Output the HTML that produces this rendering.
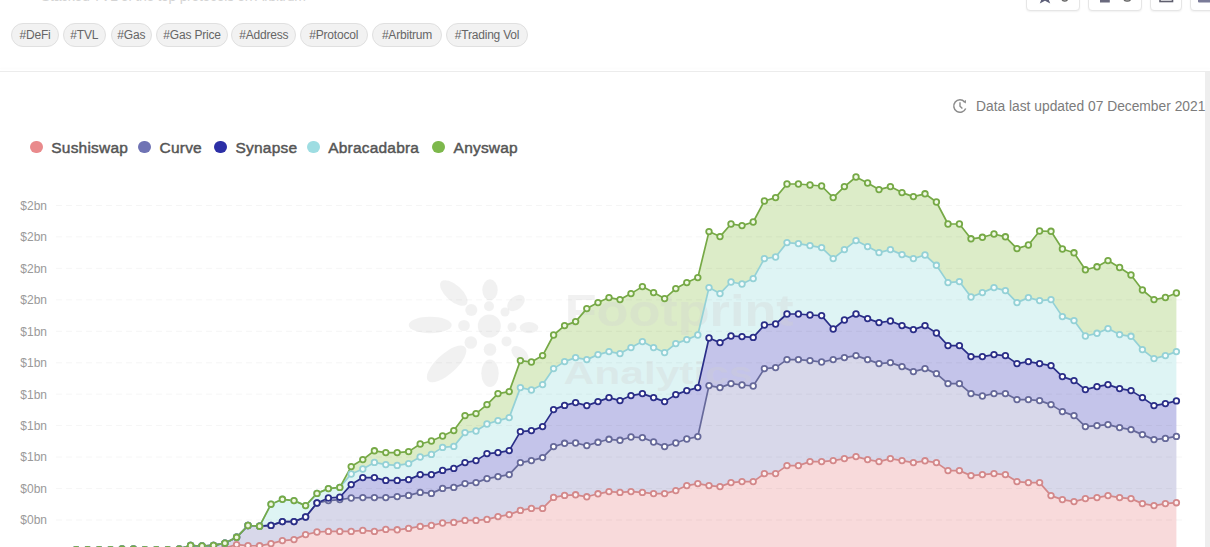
<!DOCTYPE html>
<html><head><meta charset="utf-8">
<style>
*{margin:0;padding:0;box-sizing:border-box}
html,body{width:1210px;height:547px;overflow:hidden;background:#fff}
body{position:relative;font-family:"Liberation Sans",Arial,sans-serif;color:#555}
.abs{position:absolute}
.toptxt{left:41px;top:-11.5px;font-size:14px;line-height:14px;color:#d4d4d4;letter-spacing:-0.3px;white-space:nowrap}
.btn{position:absolute;top:-12px;height:23px;border:1px solid #e6e6e6;border-radius:4px;background:#fff;box-shadow:0 1px 2px rgba(0,0,0,.06)}
.tag{position:absolute;top:23.3px;height:23.3px;line-height:22.5px;border:1px solid #e0e0e0;background:#f2f2f2;border-radius:12px;font-size:12px;color:#666;text-align:center;white-space:nowrap;letter-spacing:-0.2px}
.sep{left:0;top:71px;width:1210px;height:1px;background:#ececec;box-shadow:0 -3px 2px #fafafa}
.rbar{left:1205px;top:72px;width:5px;height:476px;background:#eeeeee}
.upd{left:976px;top:99px;font-size:13.8px;line-height:16px;color:#7c7c7c;white-space:nowrap}
.ld{position:absolute;top:140.5px;width:12.7px;height:12.7px;border-radius:50%}
.lt{position:absolute;top:138.5px;font-size:15.5px;line-height:18px;font-weight:normal;-webkit-text-stroke:0.45px #555;color:#555;white-space:nowrap;letter-spacing:0.2px}
svg.chart{position:absolute;left:0;top:0}
.g{stroke:#000;stroke-opacity:.04;stroke-width:1;stroke-dasharray:6 4}
.yl{font-size:12px;fill:#9a9a9a;text-anchor:end;font-family:"Liberation Sans",Arial,sans-serif}
.wm{fill:#d0d0d0;fill-opacity:.3}
.wt{font-weight:bold;font-family:"Liberation Sans",Arial,sans-serif}
</style></head>
<body>
<div class="abs toptxt">Stacked TVL of the top protocols on Arbitrum</div>
<div class="btn" style="left:1026px;width:54px"></div>
<div class="btn" style="left:1088px;width:54px"></div>
<div class="btn" style="left:1150px;width:32px"></div>
<div class="btn" style="left:1190px;width:30px"></div>
<svg class="abs" style="left:0;top:0" width="1210" height="12" viewBox="0 0 1210 12">
<polygon points="1045,-11 1047.3,-4.8 1053.8,-4.8 1048.6,-0.6 1050.2,3.4 1045,0.8 1039.8,3.4 1041.4,-0.6 1036.2,-4.8 1042.7,-4.8" fill="#5d5f78"/>
<rect x="1062" y="-6" width="5.5" height="7" rx="2.5" fill="none" stroke="#666" stroke-width="1.5"/>
<rect x="1100" y="-8" width="9.8" height="10.5" fill="#6a6a7e"/>
<rect x="1124" y="-6" width="6.5" height="7" rx="2.5" fill="none" stroke="#666" stroke-width="1.5"/>
<rect x="1160" y="-8" width="12.5" height="9.5" fill="none" stroke="#5f5f6e" stroke-width="1.6"/>
<rect x="1198" y="-8" width="14" height="10.5" rx="1" fill="#7a7b98"/>
</svg>
<div class="tag" style="left:11px;width:48px">#DeFi</div>
<div class="tag" style="left:62.5px;width:43.5px">#TVL</div>
<div class="tag" style="left:110.5px;width:41.5px">#Gas</div>
<div class="tag" style="left:156.3px;width:71.5px">#Gas Price</div>
<div class="tag" style="left:231.3px;width:65px">#Address</div>
<div class="tag" style="left:300px;width:67.5px">#Protocol</div>
<div class="tag" style="left:371.6px;width:70.8px">#Arbitrum</div>
<div class="tag" style="left:446.4px;width:81.3px">#Trading Vol</div>
<div class="abs sep"></div>
<div class="abs rbar"></div>
<svg class="abs" style="left:952px;top:98px" width="16" height="16" viewBox="0 0 16 16"><path d="M12.6 3.9 A6.2 6.2 0 1 0 13.7 10.5" fill="none" stroke="#8c8c8c" stroke-width="1.5"/><path d="M11.3 3.2 L13.3 4.4 L13.4 2.2" fill="none" stroke="#8c8c8c" stroke-width="1.2"/><path d="M8 4.3V8.2l2.4 2.3" fill="none" stroke="#8c8c8c" stroke-width="1.4"/></svg>
<div class="abs upd">Data last updated 07 December 2021</div>
<span class="ld" style="left:30px;background:#e98a8c"></span><span class="lt" style="left:51.3px">Sushiswap</span>
<span class="ld" style="left:138.2px;background:#6f73b4"></span><span class="lt" style="left:159.6px">Curve</span>
<span class="ld" style="left:214.2px;background:#2c2fa6"></span><span class="lt" style="left:235.5px">Synapse</span>
<span class="ld" style="left:307px;background:#9edde2"></span><span class="lt" style="left:328.2px">Abracadabra</span>
<span class="ld" style="left:432px;background:#7db84c"></span><span class="lt" style="left:453.6px">Anyswap</span>
<svg class="chart" width="1210" height="547" viewBox="0 0 1210 547">
<text x="47" y="209.8" class="yl">$2bn</text>
<text x="47" y="241.2" class="yl">$2bn</text>
<text x="47" y="272.7" class="yl">$2bn</text>
<text x="47" y="304.2" class="yl">$2bn</text>
<text x="47" y="335.6" class="yl">$1bn</text>
<text x="47" y="367.1" class="yl">$1bn</text>
<text x="47" y="398.5" class="yl">$1bn</text>
<text x="47" y="429.9" class="yl">$1bn</text>
<text x="47" y="461.4" class="yl">$1bn</text>
<text x="47" y="492.9" class="yl">$0bn</text>
<text x="47" y="524.3" class="yl">$0bn</text>
<text x="47" y="555.8" class="yl">$0bn</text>
<path d="M76.2,550 L87.6,550 L99.1,550 L110.5,550 L122,549.5 L133.4,549.5 L144.8,550 L156.3,550 L167.7,550 L179.2,549.5 L190.6,550 L202,550 L213.5,549 L224.9,548 L236.6,544.6 L248,545.6 L259.6,545.8 L271,543.6 L282.4,540.6 L294,539.6 L305.6,534.6 L317,532 L328.4,531.4 L339.8,531.4 L351.2,531.4 L362.8,530.4 L374.4,531.4 L385.8,529.4 L397.2,529.8 L408.6,528.4 L420.2,526.4 L431.4,525.4 L442.6,523 L453.8,522.4 L465,520.4 L476,520.4 L487,519.4 L498,516.6 L509.2,514.6 L520.4,510.4 L531.4,508.4 L542.6,508.4 L553.6,497.4 L564.6,495.4 L575.6,494.8 L586.8,496.8 L598,493.8 L609,491.6 L620,492.4 L631,491.6 L642.4,492.4 L653.6,493.6 L664.6,493.6 L675.8,490.6 L686.8,485.6 L697.8,483.6 L709,485.6 L720,486.6 L731,482.6 L742,481.6 L753.2,481.6 L764.4,473.6 L775.6,473.6 L787,465.6 L798.4,465.6 L810,461.6 L821.6,461.6 L833.2,460.6 L844.4,458.6 L856,456.6 L867.6,459.6 L879,461.6 L890.4,458.6 L902,460.6 L913.4,462.6 L925,460.8 L936.4,462.6 L948,470.6 L959.4,470.6 L971,475.6 L982.4,474.6 L994,473.6 L1005.4,474.6 L1017,481.6 L1028.4,482.6 L1039.6,482.6 L1051,495.6 L1062.4,499.6 L1074,501.6 L1085.4,498.6 L1097,497.6 L1108,495.6 L1119.6,497.6 L1131,498.6 L1142.4,503.6 L1154,505.6 L1165.4,503.6 L1176.4,502.7 L1176.4,551.5 L76.2,551.5 Z" fill="#f8dadb" fill-opacity="1"/>
<path d="M76.2,549.6 L87.6,549.6 L99.1,549.6 L110.5,549.6 L122,549 L133.4,549 L144.8,549.6 L156.3,549.6 L167.7,549.6 L179.2,549 L190.6,545.5 L202,546 L213.5,545.4 L224.9,543.2 L236.6,537.3 L248,525.5 L259.6,526.2 L271,525.4 L282.4,521.6 L294,521.6 L305.6,517 L317,503 L328.4,500.6 L339.8,499.6 L351.2,498 L362.8,497.6 L374.4,497.6 L385.8,497.6 L397.2,496.6 L408.6,495.4 L420.2,492.4 L431.4,493.4 L442.6,488.4 L453.8,487.4 L465,483.6 L476,482.6 L487,478.6 L498,476.6 L509.2,474.6 L520.4,462.6 L531.4,460.6 L542.6,457.6 L553.6,446.6 L564.6,443.3 L575.6,443 L586.8,445.6 L598,442.3 L609,439.3 L620,440.3 L631,437 L642.4,437.6 L653.6,442 L664.6,446.6 L675.8,443 L686.8,439 L697.8,436.6 L709,385.6 L720,387.6 L731,383.6 L742,385 L753.2,386 L764.4,368.6 L775.6,367.6 L787,359.6 L798.4,359.6 L810,360.6 L821.6,362 L833.2,359.6 L844.4,357.6 L856,355.6 L867.6,359.6 L879,363.6 L890.4,362.6 L902,366.6 L913.4,371.6 L925,368.6 L936.4,373.6 L948,383.6 L959.4,383.6 L971,393.6 L982.4,396 L994,393.6 L1005.4,393.6 L1017,399.6 L1028.4,399.6 L1039.6,400.6 L1051,404.6 L1062.4,411.6 L1074,415.6 L1085.4,426.6 L1097,425.6 L1108,424.6 L1119.6,427.6 L1131,429.6 L1142.4,434.6 L1154,439.6 L1165.4,438.4 L1176.4,436.4 L1176.4,502.7 L1165.4,503.6 L1154,505.6 L1142.4,503.6 L1131,498.6 L1119.6,497.6 L1108,495.6 L1097,497.6 L1085.4,498.6 L1074,501.6 L1062.4,499.6 L1051,495.6 L1039.6,482.6 L1028.4,482.6 L1017,481.6 L1005.4,474.6 L994,473.6 L982.4,474.6 L971,475.6 L959.4,470.6 L948,470.6 L936.4,462.6 L925,460.8 L913.4,462.6 L902,460.6 L890.4,458.6 L879,461.6 L867.6,459.6 L856,456.6 L844.4,458.6 L833.2,460.6 L821.6,461.6 L810,461.6 L798.4,465.6 L787,465.6 L775.6,473.6 L764.4,473.6 L753.2,481.6 L742,481.6 L731,482.6 L720,486.6 L709,485.6 L697.8,483.6 L686.8,485.6 L675.8,490.6 L664.6,493.6 L653.6,493.6 L642.4,492.4 L631,491.6 L620,492.4 L609,491.6 L598,493.8 L586.8,496.8 L575.6,494.8 L564.6,495.4 L553.6,497.4 L542.6,508.4 L531.4,508.4 L520.4,510.4 L509.2,514.6 L498,516.6 L487,519.4 L476,520.4 L465,520.4 L453.8,522.4 L442.6,523 L431.4,525.4 L420.2,526.4 L408.6,528.4 L397.2,529.8 L385.8,529.4 L374.4,531.4 L362.8,530.4 L351.2,531.4 L339.8,531.4 L328.4,531.4 L317,532 L305.6,534.6 L294,539.6 L282.4,540.6 L271,543.6 L259.6,545.8 L248,545.6 L236.6,544.6 L224.9,548 L213.5,549 L202,550 L190.6,550 L179.2,549.5 L167.7,550 L156.3,550 L144.8,550 L133.4,549.5 L122,549.5 L110.5,550 L99.1,550 L87.6,550 L76.2,550 Z" fill="#d8d8ea" fill-opacity="1"/>
<path d="M76.2,549.6 L87.6,549.6 L99.1,549.6 L110.5,549.6 L122,549 L133.4,549 L144.8,549.6 L156.3,549.6 L167.7,549.6 L179.2,549 L190.6,545.5 L202,546 L213.5,545.4 L224.9,543.2 L236.6,537.3 L248,525.5 L259.6,526.2 L271,525.4 L282.4,521.6 L294,521.6 L305.6,517 L317,503 L328.4,498 L339.8,497.2 L351.2,484.6 L362.8,477.6 L374.4,477.6 L385.8,480.4 L397.2,480.4 L408.6,479.6 L420.2,474.6 L431.4,474.6 L442.6,470.4 L453.8,468.4 L465,462.6 L476,460.6 L487,453.6 L498,452.6 L509.2,450.6 L520.4,431.6 L531.4,430.6 L542.6,426.6 L553.6,409.6 L564.6,405.4 L575.6,402.6 L586.8,405.6 L598,401.6 L609,397.6 L620,400.6 L631,395.6 L642.4,393.6 L653.6,397.6 L664.6,401.6 L675.8,394.6 L686.8,390.6 L697.8,387.6 L709,338 L720,342.6 L731,336 L742,336.6 L753.2,337.4 L764.4,325 L775.6,324 L787,314 L798.4,314 L810,315 L821.6,315.6 L833.2,329 L844.4,320 L856,314 L867.6,318.6 L879,322.6 L890.4,321 L902,325.6 L913.4,329.6 L925,325.6 L936.4,333 L948,345.6 L959.4,345.6 L971,356.6 L982.4,356.6 L994,354.6 L1005.4,355.6 L1017,363.6 L1028.4,361.6 L1039.6,363.6 L1051,365.6 L1062.4,376.6 L1074,380.6 L1085.4,389.6 L1097,386.6 L1108,384.6 L1119.6,388.6 L1131,390.6 L1142.4,397.6 L1154,405.6 L1165.4,403.6 L1176.4,400.9 L1176.4,436.4 L1165.4,438.4 L1154,439.6 L1142.4,434.6 L1131,429.6 L1119.6,427.6 L1108,424.6 L1097,425.6 L1085.4,426.6 L1074,415.6 L1062.4,411.6 L1051,404.6 L1039.6,400.6 L1028.4,399.6 L1017,399.6 L1005.4,393.6 L994,393.6 L982.4,396 L971,393.6 L959.4,383.6 L948,383.6 L936.4,373.6 L925,368.6 L913.4,371.6 L902,366.6 L890.4,362.6 L879,363.6 L867.6,359.6 L856,355.6 L844.4,357.6 L833.2,359.6 L821.6,362 L810,360.6 L798.4,359.6 L787,359.6 L775.6,367.6 L764.4,368.6 L753.2,386 L742,385 L731,383.6 L720,387.6 L709,385.6 L697.8,436.6 L686.8,439 L675.8,443 L664.6,446.6 L653.6,442 L642.4,437.6 L631,437 L620,440.3 L609,439.3 L598,442.3 L586.8,445.6 L575.6,443 L564.6,443.3 L553.6,446.6 L542.6,457.6 L531.4,460.6 L520.4,462.6 L509.2,474.6 L498,476.6 L487,478.6 L476,482.6 L465,483.6 L453.8,487.4 L442.6,488.4 L431.4,493.4 L420.2,492.4 L408.6,495.4 L397.2,496.6 L385.8,497.6 L374.4,497.6 L362.8,497.6 L351.2,498 L339.8,499.6 L328.4,500.6 L317,503 L305.6,517 L294,521.6 L282.4,521.6 L271,525.4 L259.6,526.2 L248,525.5 L236.6,537.3 L224.9,543.2 L213.5,545.4 L202,546 L190.6,545.5 L179.2,549 L167.7,549.6 L156.3,549.6 L144.8,549.6 L133.4,549 L122,549 L110.5,549.6 L99.1,549.6 L87.6,549.6 L76.2,549.6 Z" fill="#c4c4ea" fill-opacity="1"/>
<path d="M76.2,549.6 L87.6,549.6 L99.1,549.6 L110.5,549.6 L122,549 L133.4,549 L144.8,549.6 L156.3,549.6 L167.7,549.6 L179.2,549 L190.6,545.5 L202,546 L213.5,545.4 L224.9,543.2 L236.6,537.3 L248,525.5 L259.6,526.2 L271,504.2 L282.4,499.3 L294,500.6 L305.6,505.6 L317,493.4 L328.4,488.6 L339.8,487.4 L351.2,474 L362.8,469 L374.4,462.4 L385.8,464.6 L397.2,465.4 L408.6,463.6 L420.2,457 L431.4,454.4 L442.6,447.4 L453.8,446.4 L465,432.6 L476,431 L487,424 L498,420.6 L509.2,417.6 L520.4,387.6 L531.4,390 L542.6,384.6 L553.6,368.6 L564.6,361.6 L575.6,357.6 L586.8,359.6 L598,354.6 L609,351.6 L620,353.6 L631,347.6 L642.4,341.6 L653.6,347.6 L664.6,352.6 L675.8,343.6 L686.8,339.6 L697.8,335 L709,287.6 L720,293.6 L731,282 L742,284 L753.2,278.6 L764.4,258.6 L775.6,257 L787,242.6 L798.4,243.6 L810,245.6 L821.6,247.6 L833.2,258.6 L844.4,249.6 L856,240.6 L867.6,246.6 L879,252.6 L890.4,249.6 L902,254.6 L913.4,258.6 L925,255 L936.4,265.3 L948,282.6 L959.4,281.6 L971,297 L982.4,292.6 L994,287.6 L1005.4,290.6 L1017,302.6 L1028.4,297.6 L1039.6,300.6 L1051,299.6 L1062.4,316.6 L1074,320.6 L1085.4,336 L1097,333.3 L1108,328.6 L1119.6,334.6 L1131,336.3 L1142.4,349.6 L1154,358.6 L1165.4,355.6 L1176.4,351.6 L1176.4,400.9 L1165.4,403.6 L1154,405.6 L1142.4,397.6 L1131,390.6 L1119.6,388.6 L1108,384.6 L1097,386.6 L1085.4,389.6 L1074,380.6 L1062.4,376.6 L1051,365.6 L1039.6,363.6 L1028.4,361.6 L1017,363.6 L1005.4,355.6 L994,354.6 L982.4,356.6 L971,356.6 L959.4,345.6 L948,345.6 L936.4,333 L925,325.6 L913.4,329.6 L902,325.6 L890.4,321 L879,322.6 L867.6,318.6 L856,314 L844.4,320 L833.2,329 L821.6,315.6 L810,315 L798.4,314 L787,314 L775.6,324 L764.4,325 L753.2,337.4 L742,336.6 L731,336 L720,342.6 L709,338 L697.8,387.6 L686.8,390.6 L675.8,394.6 L664.6,401.6 L653.6,397.6 L642.4,393.6 L631,395.6 L620,400.6 L609,397.6 L598,401.6 L586.8,405.6 L575.6,402.6 L564.6,405.4 L553.6,409.6 L542.6,426.6 L531.4,430.6 L520.4,431.6 L509.2,450.6 L498,452.6 L487,453.6 L476,460.6 L465,462.6 L453.8,468.4 L442.6,470.4 L431.4,474.6 L420.2,474.6 L408.6,479.6 L397.2,480.4 L385.8,480.4 L374.4,477.6 L362.8,477.6 L351.2,484.6 L339.8,497.2 L328.4,498 L317,503 L305.6,517 L294,521.6 L282.4,521.6 L271,525.4 L259.6,526.2 L248,525.5 L236.6,537.3 L224.9,543.2 L213.5,545.4 L202,546 L190.6,545.5 L179.2,549 L167.7,549.6 L156.3,549.6 L144.8,549.6 L133.4,549 L122,549 L110.5,549.6 L99.1,549.6 L87.6,549.6 L76.2,549.6 Z" fill="#def4f4" fill-opacity="1"/>
<path d="M76.2,549.6 L87.6,549.6 L99.1,549.6 L110.5,549.6 L122,549 L133.4,549 L144.8,549.6 L156.3,549.6 L167.7,549.6 L179.2,549 L190.6,545.5 L202,546 L213.5,545.4 L224.9,543.2 L236.6,537.3 L248,525.5 L259.6,526.2 L271,504.2 L282.4,499.3 L294,500.6 L305.6,505.6 L317,493.4 L328.4,488.6 L339.8,487.4 L351.2,466.6 L362.8,459.6 L374.4,450.8 L385.8,452.6 L397.2,452.6 L408.6,451.6 L420.2,444 L431.4,441 L442.6,436 L453.8,430.6 L465,415.6 L476,413.6 L487,404.6 L498,393.6 L509.2,391.6 L520.4,360.6 L531.4,362 L542.6,355.6 L553.6,335 L564.6,325.6 L575.6,321.6 L586.8,308.6 L598,302.6 L609,297.6 L620,299.6 L631,293.6 L642.4,286.6 L653.6,292.6 L664.6,298.6 L675.8,288.6 L686.8,282.6 L697.8,277.6 L709,231.6 L720,236.6 L731,224 L742,225.6 L753.2,222 L764.4,201 L775.6,197.6 L787,184 L798.4,184 L810,185 L821.6,186 L833.2,197.6 L844.4,186.6 L856,177 L867.6,183 L879,189.6 L890.4,186.6 L902,192.6 L913.4,196.6 L925,193.8 L936.4,202 L948,224 L959.4,224 L971,238.8 L982.4,237.3 L994,234 L1005.4,236.8 L1017,248.6 L1028.4,245 L1039.6,231 L1051,231.3 L1062.4,249 L1074,252.8 L1085.4,269.8 L1097,266.8 L1108,260.6 L1119.6,267.5 L1131,275 L1142.4,290 L1154,299.6 L1165.4,297.5 L1176.4,293 L1176.4,351.6 L1165.4,355.6 L1154,358.6 L1142.4,349.6 L1131,336.3 L1119.6,334.6 L1108,328.6 L1097,333.3 L1085.4,336 L1074,320.6 L1062.4,316.6 L1051,299.6 L1039.6,300.6 L1028.4,297.6 L1017,302.6 L1005.4,290.6 L994,287.6 L982.4,292.6 L971,297 L959.4,281.6 L948,282.6 L936.4,265.3 L925,255 L913.4,258.6 L902,254.6 L890.4,249.6 L879,252.6 L867.6,246.6 L856,240.6 L844.4,249.6 L833.2,258.6 L821.6,247.6 L810,245.6 L798.4,243.6 L787,242.6 L775.6,257 L764.4,258.6 L753.2,278.6 L742,284 L731,282 L720,293.6 L709,287.6 L697.8,335 L686.8,339.6 L675.8,343.6 L664.6,352.6 L653.6,347.6 L642.4,341.6 L631,347.6 L620,353.6 L609,351.6 L598,354.6 L586.8,359.6 L575.6,357.6 L564.6,361.6 L553.6,368.6 L542.6,384.6 L531.4,390 L520.4,387.6 L509.2,417.6 L498,420.6 L487,424 L476,431 L465,432.6 L453.8,446.4 L442.6,447.4 L431.4,454.4 L420.2,457 L408.6,463.6 L397.2,465.4 L385.8,464.6 L374.4,462.4 L362.8,469 L351.2,474 L339.8,487.4 L328.4,488.6 L317,493.4 L305.6,505.6 L294,500.6 L282.4,499.3 L271,504.2 L259.6,526.2 L248,525.5 L236.6,537.3 L224.9,543.2 L213.5,545.4 L202,546 L190.6,545.5 L179.2,549 L167.7,549.6 L156.3,549.6 L144.8,549.6 L133.4,549 L122,549 L110.5,549.6 L99.1,549.6 L87.6,549.6 L76.2,549.6 Z" fill="#dcecc8" fill-opacity="1"/>
<g class="wm">
<circle cx="489.3" cy="326" r="11.5"/>
<ellipse cx="430.2" cy="325" rx="21.5" ry="8.3"/>
<ellipse cx="464" cy="325.5" rx="5.8" ry="5.5"/>
<circle cx="512" cy="327" r="4.5"/>
<ellipse cx="529" cy="327.6" rx="9.3" ry="5.6"/>
<ellipse cx="490" cy="289.8" rx="7.7" ry="10.5"/>
<ellipse cx="453.8" cy="293" rx="17" ry="8" transform="rotate(42 453.8 293)"/>
<circle cx="471.3" cy="310" r="6"/>
<circle cx="489" cy="306.2" r="5"/>
<ellipse cx="516" cy="303" rx="10" ry="6.5" transform="rotate(-40 516 303)"/>
<circle cx="505" cy="312" r="4.5"/>
<ellipse cx="446.6" cy="363.9" rx="25" ry="10" transform="rotate(-42 446.6 363.9)"/>
<circle cx="470.8" cy="342.5" r="6.3"/>
<circle cx="490" cy="349.5" r="6.3"/>
<ellipse cx="490" cy="373.3" rx="8.7" ry="13.7"/>
<circle cx="506.5" cy="341.4" r="5"/>
<ellipse cx="520" cy="354" rx="10" ry="6" transform="rotate(40 520 354)"/>
<text x="564.7" y="326.2" class="wt" style="font-size:44.7px" textLength="229" lengthAdjust="spacingAndGlyphs">Footprint</text>
<text x="563.6" y="383.7" class="wt" style="font-size:31.7px" textLength="189" lengthAdjust="spacingAndGlyphs">Analytics</text>
</g>
<line x1="56" y1="205.5" x2="1184" y2="205.5" class="g"/>
<line x1="56" y1="236.9" x2="1184" y2="236.9" class="g"/>
<line x1="56" y1="268.4" x2="1184" y2="268.4" class="g"/>
<line x1="56" y1="299.9" x2="1184" y2="299.9" class="g"/>
<line x1="56" y1="331.3" x2="1184" y2="331.3" class="g"/>
<line x1="56" y1="362.8" x2="1184" y2="362.8" class="g"/>
<line x1="56" y1="394.2" x2="1184" y2="394.2" class="g"/>
<line x1="56" y1="425.6" x2="1184" y2="425.6" class="g"/>
<line x1="56" y1="457.1" x2="1184" y2="457.1" class="g"/>
<line x1="56" y1="488.6" x2="1184" y2="488.6" class="g"/>
<line x1="56" y1="520" x2="1184" y2="520" class="g"/>
<line x1="56" y1="551.5" x2="1184" y2="551.5" class="g"/>
<polyline points="76.2,550 87.6,550 99.1,550 110.5,550 122,549.5 133.4,549.5 144.8,550 156.3,550 167.7,550 179.2,549.5 190.6,550 202,550 213.5,549 224.9,548 236.6,544.6 248,545.6 259.6,545.8 271,543.6 282.4,540.6 294,539.6 305.6,534.6 317,532 328.4,531.4 339.8,531.4 351.2,531.4 362.8,530.4 374.4,531.4 385.8,529.4 397.2,529.8 408.6,528.4 420.2,526.4 431.4,525.4 442.6,523 453.8,522.4 465,520.4 476,520.4 487,519.4 498,516.6 509.2,514.6 520.4,510.4 531.4,508.4 542.6,508.4 553.6,497.4 564.6,495.4 575.6,494.8 586.8,496.8 598,493.8 609,491.6 620,492.4 631,491.6 642.4,492.4 653.6,493.6 664.6,493.6 675.8,490.6 686.8,485.6 697.8,483.6 709,485.6 720,486.6 731,482.6 742,481.6 753.2,481.6 764.4,473.6 775.6,473.6 787,465.6 798.4,465.6 810,461.6 821.6,461.6 833.2,460.6 844.4,458.6 856,456.6 867.6,459.6 879,461.6 890.4,458.6 902,460.6 913.4,462.6 925,460.8 936.4,462.6 948,470.6 959.4,470.6 971,475.6 982.4,474.6 994,473.6 1005.4,474.6 1017,481.6 1028.4,482.6 1039.6,482.6 1051,495.6 1062.4,499.6 1074,501.6 1085.4,498.6 1097,497.6 1108,495.6 1119.6,497.6 1131,498.6 1142.4,503.6 1154,505.6 1165.4,503.6 1176.4,502.7" fill="none" stroke="#d3888a" stroke-width="1.7" stroke-linejoin="round"/>
<polyline points="76.2,549.6 87.6,549.6 99.1,549.6 110.5,549.6 122,549 133.4,549 144.8,549.6 156.3,549.6 167.7,549.6 179.2,549 190.6,545.5 202,546 213.5,545.4 224.9,543.2 236.6,537.3 248,525.5 259.6,526.2 271,525.4 282.4,521.6 294,521.6 305.6,517 317,503 328.4,500.6 339.8,499.6 351.2,498 362.8,497.6 374.4,497.6 385.8,497.6 397.2,496.6 408.6,495.4 420.2,492.4 431.4,493.4 442.6,488.4 453.8,487.4 465,483.6 476,482.6 487,478.6 498,476.6 509.2,474.6 520.4,462.6 531.4,460.6 542.6,457.6 553.6,446.6 564.6,443.3 575.6,443 586.8,445.6 598,442.3 609,439.3 620,440.3 631,437 642.4,437.6 653.6,442 664.6,446.6 675.8,443 686.8,439 697.8,436.6 709,385.6 720,387.6 731,383.6 742,385 753.2,386 764.4,368.6 775.6,367.6 787,359.6 798.4,359.6 810,360.6 821.6,362 833.2,359.6 844.4,357.6 856,355.6 867.6,359.6 879,363.6 890.4,362.6 902,366.6 913.4,371.6 925,368.6 936.4,373.6 948,383.6 959.4,383.6 971,393.6 982.4,396 994,393.6 1005.4,393.6 1017,399.6 1028.4,399.6 1039.6,400.6 1051,404.6 1062.4,411.6 1074,415.6 1085.4,426.6 1097,425.6 1108,424.6 1119.6,427.6 1131,429.6 1142.4,434.6 1154,439.6 1165.4,438.4 1176.4,436.4" fill="none" stroke="#66699a" stroke-width="1.7" stroke-linejoin="round"/>
<polyline points="76.2,549.6 87.6,549.6 99.1,549.6 110.5,549.6 122,549 133.4,549 144.8,549.6 156.3,549.6 167.7,549.6 179.2,549 190.6,545.5 202,546 213.5,545.4 224.9,543.2 236.6,537.3 248,525.5 259.6,526.2 271,525.4 282.4,521.6 294,521.6 305.6,517 317,503 328.4,498 339.8,497.2 351.2,484.6 362.8,477.6 374.4,477.6 385.8,480.4 397.2,480.4 408.6,479.6 420.2,474.6 431.4,474.6 442.6,470.4 453.8,468.4 465,462.6 476,460.6 487,453.6 498,452.6 509.2,450.6 520.4,431.6 531.4,430.6 542.6,426.6 553.6,409.6 564.6,405.4 575.6,402.6 586.8,405.6 598,401.6 609,397.6 620,400.6 631,395.6 642.4,393.6 653.6,397.6 664.6,401.6 675.8,394.6 686.8,390.6 697.8,387.6 709,338 720,342.6 731,336 742,336.6 753.2,337.4 764.4,325 775.6,324 787,314 798.4,314 810,315 821.6,315.6 833.2,329 844.4,320 856,314 867.6,318.6 879,322.6 890.4,321 902,325.6 913.4,329.6 925,325.6 936.4,333 948,345.6 959.4,345.6 971,356.6 982.4,356.6 994,354.6 1005.4,355.6 1017,363.6 1028.4,361.6 1039.6,363.6 1051,365.6 1062.4,376.6 1074,380.6 1085.4,389.6 1097,386.6 1108,384.6 1119.6,388.6 1131,390.6 1142.4,397.6 1154,405.6 1165.4,403.6 1176.4,400.9" fill="none" stroke="#2a2e88" stroke-width="1.7" stroke-linejoin="round"/>
<polyline points="76.2,549.6 87.6,549.6 99.1,549.6 110.5,549.6 122,549 133.4,549 144.8,549.6 156.3,549.6 167.7,549.6 179.2,549 190.6,545.5 202,546 213.5,545.4 224.9,543.2 236.6,537.3 248,525.5 259.6,526.2 271,504.2 282.4,499.3 294,500.6 305.6,505.6 317,493.4 328.4,488.6 339.8,487.4 351.2,474 362.8,469 374.4,462.4 385.8,464.6 397.2,465.4 408.6,463.6 420.2,457 431.4,454.4 442.6,447.4 453.8,446.4 465,432.6 476,431 487,424 498,420.6 509.2,417.6 520.4,387.6 531.4,390 542.6,384.6 553.6,368.6 564.6,361.6 575.6,357.6 586.8,359.6 598,354.6 609,351.6 620,353.6 631,347.6 642.4,341.6 653.6,347.6 664.6,352.6 675.8,343.6 686.8,339.6 697.8,335 709,287.6 720,293.6 731,282 742,284 753.2,278.6 764.4,258.6 775.6,257 787,242.6 798.4,243.6 810,245.6 821.6,247.6 833.2,258.6 844.4,249.6 856,240.6 867.6,246.6 879,252.6 890.4,249.6 902,254.6 913.4,258.6 925,255 936.4,265.3 948,282.6 959.4,281.6 971,297 982.4,292.6 994,287.6 1005.4,290.6 1017,302.6 1028.4,297.6 1039.6,300.6 1051,299.6 1062.4,316.6 1074,320.6 1085.4,336 1097,333.3 1108,328.6 1119.6,334.6 1131,336.3 1142.4,349.6 1154,358.6 1165.4,355.6 1176.4,351.6" fill="none" stroke="#94d1d6" stroke-width="1.7" stroke-linejoin="round"/>
<polyline points="76.2,549.6 87.6,549.6 99.1,549.6 110.5,549.6 122,549 133.4,549 144.8,549.6 156.3,549.6 167.7,549.6 179.2,549 190.6,545.5 202,546 213.5,545.4 224.9,543.2 236.6,537.3 248,525.5 259.6,526.2 271,504.2 282.4,499.3 294,500.6 305.6,505.6 317,493.4 328.4,488.6 339.8,487.4 351.2,466.6 362.8,459.6 374.4,450.8 385.8,452.6 397.2,452.6 408.6,451.6 420.2,444 431.4,441 442.6,436 453.8,430.6 465,415.6 476,413.6 487,404.6 498,393.6 509.2,391.6 520.4,360.6 531.4,362 542.6,355.6 553.6,335 564.6,325.6 575.6,321.6 586.8,308.6 598,302.6 609,297.6 620,299.6 631,293.6 642.4,286.6 653.6,292.6 664.6,298.6 675.8,288.6 686.8,282.6 697.8,277.6 709,231.6 720,236.6 731,224 742,225.6 753.2,222 764.4,201 775.6,197.6 787,184 798.4,184 810,185 821.6,186 833.2,197.6 844.4,186.6 856,177 867.6,183 879,189.6 890.4,186.6 902,192.6 913.4,196.6 925,193.8 936.4,202 948,224 959.4,224 971,238.8 982.4,237.3 994,234 1005.4,236.8 1017,248.6 1028.4,245 1039.6,231 1051,231.3 1062.4,249 1074,252.8 1085.4,269.8 1097,266.8 1108,260.6 1119.6,267.5 1131,275 1142.4,290 1154,299.6 1165.4,297.5 1176.4,293" fill="none" stroke="#76a946" stroke-width="1.7" stroke-linejoin="round"/>
<g fill="#fdf0f1" stroke="#d3888a" stroke-width="1.8"><circle cx="76.2" cy="550" r="2.8"/><circle cx="87.6" cy="550" r="2.8"/><circle cx="99.1" cy="550" r="2.8"/><circle cx="110.5" cy="550" r="2.8"/><circle cx="122" cy="549.5" r="2.8"/><circle cx="133.4" cy="549.5" r="2.8"/><circle cx="144.8" cy="550" r="2.8"/><circle cx="156.3" cy="550" r="2.8"/><circle cx="167.7" cy="550" r="2.8"/><circle cx="179.2" cy="549.5" r="2.8"/><circle cx="190.6" cy="550" r="2.8"/><circle cx="202" cy="550" r="2.8"/><circle cx="213.5" cy="549" r="2.8"/><circle cx="224.9" cy="548" r="2.8"/><circle cx="236.6" cy="544.6" r="2.8"/><circle cx="248" cy="545.6" r="2.8"/><circle cx="259.6" cy="545.8" r="2.8"/><circle cx="271" cy="543.6" r="2.8"/><circle cx="282.4" cy="540.6" r="2.8"/><circle cx="294" cy="539.6" r="2.8"/><circle cx="305.6" cy="534.6" r="2.8"/><circle cx="317" cy="532" r="2.8"/><circle cx="328.4" cy="531.4" r="2.8"/><circle cx="339.8" cy="531.4" r="2.8"/><circle cx="351.2" cy="531.4" r="2.8"/><circle cx="362.8" cy="530.4" r="2.8"/><circle cx="374.4" cy="531.4" r="2.8"/><circle cx="385.8" cy="529.4" r="2.8"/><circle cx="397.2" cy="529.8" r="2.8"/><circle cx="408.6" cy="528.4" r="2.8"/><circle cx="420.2" cy="526.4" r="2.8"/><circle cx="431.4" cy="525.4" r="2.8"/><circle cx="442.6" cy="523" r="2.8"/><circle cx="453.8" cy="522.4" r="2.8"/><circle cx="465" cy="520.4" r="2.8"/><circle cx="476" cy="520.4" r="2.8"/><circle cx="487" cy="519.4" r="2.8"/><circle cx="498" cy="516.6" r="2.8"/><circle cx="509.2" cy="514.6" r="2.8"/><circle cx="520.4" cy="510.4" r="2.8"/><circle cx="531.4" cy="508.4" r="2.8"/><circle cx="542.6" cy="508.4" r="2.8"/><circle cx="553.6" cy="497.4" r="2.8"/><circle cx="564.6" cy="495.4" r="2.8"/><circle cx="575.6" cy="494.8" r="2.8"/><circle cx="586.8" cy="496.8" r="2.8"/><circle cx="598" cy="493.8" r="2.8"/><circle cx="609" cy="491.6" r="2.8"/><circle cx="620" cy="492.4" r="2.8"/><circle cx="631" cy="491.6" r="2.8"/><circle cx="642.4" cy="492.4" r="2.8"/><circle cx="653.6" cy="493.6" r="2.8"/><circle cx="664.6" cy="493.6" r="2.8"/><circle cx="675.8" cy="490.6" r="2.8"/><circle cx="686.8" cy="485.6" r="2.8"/><circle cx="697.8" cy="483.6" r="2.8"/><circle cx="709" cy="485.6" r="2.8"/><circle cx="720" cy="486.6" r="2.8"/><circle cx="731" cy="482.6" r="2.8"/><circle cx="742" cy="481.6" r="2.8"/><circle cx="753.2" cy="481.6" r="2.8"/><circle cx="764.4" cy="473.6" r="2.8"/><circle cx="775.6" cy="473.6" r="2.8"/><circle cx="787" cy="465.6" r="2.8"/><circle cx="798.4" cy="465.6" r="2.8"/><circle cx="810" cy="461.6" r="2.8"/><circle cx="821.6" cy="461.6" r="2.8"/><circle cx="833.2" cy="460.6" r="2.8"/><circle cx="844.4" cy="458.6" r="2.8"/><circle cx="856" cy="456.6" r="2.8"/><circle cx="867.6" cy="459.6" r="2.8"/><circle cx="879" cy="461.6" r="2.8"/><circle cx="890.4" cy="458.6" r="2.8"/><circle cx="902" cy="460.6" r="2.8"/><circle cx="913.4" cy="462.6" r="2.8"/><circle cx="925" cy="460.8" r="2.8"/><circle cx="936.4" cy="462.6" r="2.8"/><circle cx="948" cy="470.6" r="2.8"/><circle cx="959.4" cy="470.6" r="2.8"/><circle cx="971" cy="475.6" r="2.8"/><circle cx="982.4" cy="474.6" r="2.8"/><circle cx="994" cy="473.6" r="2.8"/><circle cx="1005.4" cy="474.6" r="2.8"/><circle cx="1017" cy="481.6" r="2.8"/><circle cx="1028.4" cy="482.6" r="2.8"/><circle cx="1039.6" cy="482.6" r="2.8"/><circle cx="1051" cy="495.6" r="2.8"/><circle cx="1062.4" cy="499.6" r="2.8"/><circle cx="1074" cy="501.6" r="2.8"/><circle cx="1085.4" cy="498.6" r="2.8"/><circle cx="1097" cy="497.6" r="2.8"/><circle cx="1108" cy="495.6" r="2.8"/><circle cx="1119.6" cy="497.6" r="2.8"/><circle cx="1131" cy="498.6" r="2.8"/><circle cx="1142.4" cy="503.6" r="2.8"/><circle cx="1154" cy="505.6" r="2.8"/><circle cx="1165.4" cy="503.6" r="2.8"/><circle cx="1176.4" cy="502.7" r="2.8"/></g>
<g fill="#ffffff" stroke="#66699a" stroke-width="1.8"><circle cx="76.2" cy="549.6" r="2.8"/><circle cx="87.6" cy="549.6" r="2.8"/><circle cx="99.1" cy="549.6" r="2.8"/><circle cx="110.5" cy="549.6" r="2.8"/><circle cx="122" cy="549" r="2.8"/><circle cx="133.4" cy="549" r="2.8"/><circle cx="144.8" cy="549.6" r="2.8"/><circle cx="156.3" cy="549.6" r="2.8"/><circle cx="167.7" cy="549.6" r="2.8"/><circle cx="179.2" cy="549" r="2.8"/><circle cx="190.6" cy="545.5" r="2.8"/><circle cx="202" cy="546" r="2.8"/><circle cx="213.5" cy="545.4" r="2.8"/><circle cx="224.9" cy="543.2" r="2.8"/><circle cx="236.6" cy="537.3" r="2.8"/><circle cx="248" cy="525.5" r="2.8"/><circle cx="259.6" cy="526.2" r="2.8"/><circle cx="271" cy="525.4" r="2.8"/><circle cx="282.4" cy="521.6" r="2.8"/><circle cx="294" cy="521.6" r="2.8"/><circle cx="305.6" cy="517" r="2.8"/><circle cx="317" cy="503" r="2.8"/><circle cx="328.4" cy="500.6" r="2.8"/><circle cx="339.8" cy="499.6" r="2.8"/><circle cx="351.2" cy="498" r="2.8"/><circle cx="362.8" cy="497.6" r="2.8"/><circle cx="374.4" cy="497.6" r="2.8"/><circle cx="385.8" cy="497.6" r="2.8"/><circle cx="397.2" cy="496.6" r="2.8"/><circle cx="408.6" cy="495.4" r="2.8"/><circle cx="420.2" cy="492.4" r="2.8"/><circle cx="431.4" cy="493.4" r="2.8"/><circle cx="442.6" cy="488.4" r="2.8"/><circle cx="453.8" cy="487.4" r="2.8"/><circle cx="465" cy="483.6" r="2.8"/><circle cx="476" cy="482.6" r="2.8"/><circle cx="487" cy="478.6" r="2.8"/><circle cx="498" cy="476.6" r="2.8"/><circle cx="509.2" cy="474.6" r="2.8"/><circle cx="520.4" cy="462.6" r="2.8"/><circle cx="531.4" cy="460.6" r="2.8"/><circle cx="542.6" cy="457.6" r="2.8"/><circle cx="553.6" cy="446.6" r="2.8"/><circle cx="564.6" cy="443.3" r="2.8"/><circle cx="575.6" cy="443" r="2.8"/><circle cx="586.8" cy="445.6" r="2.8"/><circle cx="598" cy="442.3" r="2.8"/><circle cx="609" cy="439.3" r="2.8"/><circle cx="620" cy="440.3" r="2.8"/><circle cx="631" cy="437" r="2.8"/><circle cx="642.4" cy="437.6" r="2.8"/><circle cx="653.6" cy="442" r="2.8"/><circle cx="664.6" cy="446.6" r="2.8"/><circle cx="675.8" cy="443" r="2.8"/><circle cx="686.8" cy="439" r="2.8"/><circle cx="697.8" cy="436.6" r="2.8"/><circle cx="709" cy="385.6" r="2.8"/><circle cx="720" cy="387.6" r="2.8"/><circle cx="731" cy="383.6" r="2.8"/><circle cx="742" cy="385" r="2.8"/><circle cx="753.2" cy="386" r="2.8"/><circle cx="764.4" cy="368.6" r="2.8"/><circle cx="775.6" cy="367.6" r="2.8"/><circle cx="787" cy="359.6" r="2.8"/><circle cx="798.4" cy="359.6" r="2.8"/><circle cx="810" cy="360.6" r="2.8"/><circle cx="821.6" cy="362" r="2.8"/><circle cx="833.2" cy="359.6" r="2.8"/><circle cx="844.4" cy="357.6" r="2.8"/><circle cx="856" cy="355.6" r="2.8"/><circle cx="867.6" cy="359.6" r="2.8"/><circle cx="879" cy="363.6" r="2.8"/><circle cx="890.4" cy="362.6" r="2.8"/><circle cx="902" cy="366.6" r="2.8"/><circle cx="913.4" cy="371.6" r="2.8"/><circle cx="925" cy="368.6" r="2.8"/><circle cx="936.4" cy="373.6" r="2.8"/><circle cx="948" cy="383.6" r="2.8"/><circle cx="959.4" cy="383.6" r="2.8"/><circle cx="971" cy="393.6" r="2.8"/><circle cx="982.4" cy="396" r="2.8"/><circle cx="994" cy="393.6" r="2.8"/><circle cx="1005.4" cy="393.6" r="2.8"/><circle cx="1017" cy="399.6" r="2.8"/><circle cx="1028.4" cy="399.6" r="2.8"/><circle cx="1039.6" cy="400.6" r="2.8"/><circle cx="1051" cy="404.6" r="2.8"/><circle cx="1062.4" cy="411.6" r="2.8"/><circle cx="1074" cy="415.6" r="2.8"/><circle cx="1085.4" cy="426.6" r="2.8"/><circle cx="1097" cy="425.6" r="2.8"/><circle cx="1108" cy="424.6" r="2.8"/><circle cx="1119.6" cy="427.6" r="2.8"/><circle cx="1131" cy="429.6" r="2.8"/><circle cx="1142.4" cy="434.6" r="2.8"/><circle cx="1154" cy="439.6" r="2.8"/><circle cx="1165.4" cy="438.4" r="2.8"/><circle cx="1176.4" cy="436.4" r="2.8"/></g>
<g fill="#ffffff" stroke="#2a2e88" stroke-width="1.8"><circle cx="76.2" cy="549.6" r="2.8"/><circle cx="87.6" cy="549.6" r="2.8"/><circle cx="99.1" cy="549.6" r="2.8"/><circle cx="110.5" cy="549.6" r="2.8"/><circle cx="122" cy="549" r="2.8"/><circle cx="133.4" cy="549" r="2.8"/><circle cx="144.8" cy="549.6" r="2.8"/><circle cx="156.3" cy="549.6" r="2.8"/><circle cx="167.7" cy="549.6" r="2.8"/><circle cx="179.2" cy="549" r="2.8"/><circle cx="190.6" cy="545.5" r="2.8"/><circle cx="202" cy="546" r="2.8"/><circle cx="213.5" cy="545.4" r="2.8"/><circle cx="224.9" cy="543.2" r="2.8"/><circle cx="236.6" cy="537.3" r="2.8"/><circle cx="248" cy="525.5" r="2.8"/><circle cx="259.6" cy="526.2" r="2.8"/><circle cx="271" cy="525.4" r="2.8"/><circle cx="282.4" cy="521.6" r="2.8"/><circle cx="294" cy="521.6" r="2.8"/><circle cx="305.6" cy="517" r="2.8"/><circle cx="317" cy="503" r="2.8"/><circle cx="328.4" cy="498" r="2.8"/><circle cx="339.8" cy="497.2" r="2.8"/><circle cx="351.2" cy="484.6" r="2.8"/><circle cx="362.8" cy="477.6" r="2.8"/><circle cx="374.4" cy="477.6" r="2.8"/><circle cx="385.8" cy="480.4" r="2.8"/><circle cx="397.2" cy="480.4" r="2.8"/><circle cx="408.6" cy="479.6" r="2.8"/><circle cx="420.2" cy="474.6" r="2.8"/><circle cx="431.4" cy="474.6" r="2.8"/><circle cx="442.6" cy="470.4" r="2.8"/><circle cx="453.8" cy="468.4" r="2.8"/><circle cx="465" cy="462.6" r="2.8"/><circle cx="476" cy="460.6" r="2.8"/><circle cx="487" cy="453.6" r="2.8"/><circle cx="498" cy="452.6" r="2.8"/><circle cx="509.2" cy="450.6" r="2.8"/><circle cx="520.4" cy="431.6" r="2.8"/><circle cx="531.4" cy="430.6" r="2.8"/><circle cx="542.6" cy="426.6" r="2.8"/><circle cx="553.6" cy="409.6" r="2.8"/><circle cx="564.6" cy="405.4" r="2.8"/><circle cx="575.6" cy="402.6" r="2.8"/><circle cx="586.8" cy="405.6" r="2.8"/><circle cx="598" cy="401.6" r="2.8"/><circle cx="609" cy="397.6" r="2.8"/><circle cx="620" cy="400.6" r="2.8"/><circle cx="631" cy="395.6" r="2.8"/><circle cx="642.4" cy="393.6" r="2.8"/><circle cx="653.6" cy="397.6" r="2.8"/><circle cx="664.6" cy="401.6" r="2.8"/><circle cx="675.8" cy="394.6" r="2.8"/><circle cx="686.8" cy="390.6" r="2.8"/><circle cx="697.8" cy="387.6" r="2.8"/><circle cx="709" cy="338" r="2.8"/><circle cx="720" cy="342.6" r="2.8"/><circle cx="731" cy="336" r="2.8"/><circle cx="742" cy="336.6" r="2.8"/><circle cx="753.2" cy="337.4" r="2.8"/><circle cx="764.4" cy="325" r="2.8"/><circle cx="775.6" cy="324" r="2.8"/><circle cx="787" cy="314" r="2.8"/><circle cx="798.4" cy="314" r="2.8"/><circle cx="810" cy="315" r="2.8"/><circle cx="821.6" cy="315.6" r="2.8"/><circle cx="833.2" cy="329" r="2.8"/><circle cx="844.4" cy="320" r="2.8"/><circle cx="856" cy="314" r="2.8"/><circle cx="867.6" cy="318.6" r="2.8"/><circle cx="879" cy="322.6" r="2.8"/><circle cx="890.4" cy="321" r="2.8"/><circle cx="902" cy="325.6" r="2.8"/><circle cx="913.4" cy="329.6" r="2.8"/><circle cx="925" cy="325.6" r="2.8"/><circle cx="936.4" cy="333" r="2.8"/><circle cx="948" cy="345.6" r="2.8"/><circle cx="959.4" cy="345.6" r="2.8"/><circle cx="971" cy="356.6" r="2.8"/><circle cx="982.4" cy="356.6" r="2.8"/><circle cx="994" cy="354.6" r="2.8"/><circle cx="1005.4" cy="355.6" r="2.8"/><circle cx="1017" cy="363.6" r="2.8"/><circle cx="1028.4" cy="361.6" r="2.8"/><circle cx="1039.6" cy="363.6" r="2.8"/><circle cx="1051" cy="365.6" r="2.8"/><circle cx="1062.4" cy="376.6" r="2.8"/><circle cx="1074" cy="380.6" r="2.8"/><circle cx="1085.4" cy="389.6" r="2.8"/><circle cx="1097" cy="386.6" r="2.8"/><circle cx="1108" cy="384.6" r="2.8"/><circle cx="1119.6" cy="388.6" r="2.8"/><circle cx="1131" cy="390.6" r="2.8"/><circle cx="1142.4" cy="397.6" r="2.8"/><circle cx="1154" cy="405.6" r="2.8"/><circle cx="1165.4" cy="403.6" r="2.8"/><circle cx="1176.4" cy="400.9" r="2.8"/></g>
<g fill="#f4fcfc" stroke="#94d1d6" stroke-width="1.8"><circle cx="76.2" cy="549.6" r="2.8"/><circle cx="87.6" cy="549.6" r="2.8"/><circle cx="99.1" cy="549.6" r="2.8"/><circle cx="110.5" cy="549.6" r="2.8"/><circle cx="122" cy="549" r="2.8"/><circle cx="133.4" cy="549" r="2.8"/><circle cx="144.8" cy="549.6" r="2.8"/><circle cx="156.3" cy="549.6" r="2.8"/><circle cx="167.7" cy="549.6" r="2.8"/><circle cx="179.2" cy="549" r="2.8"/><circle cx="190.6" cy="545.5" r="2.8"/><circle cx="202" cy="546" r="2.8"/><circle cx="213.5" cy="545.4" r="2.8"/><circle cx="224.9" cy="543.2" r="2.8"/><circle cx="236.6" cy="537.3" r="2.8"/><circle cx="248" cy="525.5" r="2.8"/><circle cx="259.6" cy="526.2" r="2.8"/><circle cx="271" cy="504.2" r="2.8"/><circle cx="282.4" cy="499.3" r="2.8"/><circle cx="294" cy="500.6" r="2.8"/><circle cx="305.6" cy="505.6" r="2.8"/><circle cx="317" cy="493.4" r="2.8"/><circle cx="328.4" cy="488.6" r="2.8"/><circle cx="339.8" cy="487.4" r="2.8"/><circle cx="351.2" cy="474" r="2.8"/><circle cx="362.8" cy="469" r="2.8"/><circle cx="374.4" cy="462.4" r="2.8"/><circle cx="385.8" cy="464.6" r="2.8"/><circle cx="397.2" cy="465.4" r="2.8"/><circle cx="408.6" cy="463.6" r="2.8"/><circle cx="420.2" cy="457" r="2.8"/><circle cx="431.4" cy="454.4" r="2.8"/><circle cx="442.6" cy="447.4" r="2.8"/><circle cx="453.8" cy="446.4" r="2.8"/><circle cx="465" cy="432.6" r="2.8"/><circle cx="476" cy="431" r="2.8"/><circle cx="487" cy="424" r="2.8"/><circle cx="498" cy="420.6" r="2.8"/><circle cx="509.2" cy="417.6" r="2.8"/><circle cx="520.4" cy="387.6" r="2.8"/><circle cx="531.4" cy="390" r="2.8"/><circle cx="542.6" cy="384.6" r="2.8"/><circle cx="553.6" cy="368.6" r="2.8"/><circle cx="564.6" cy="361.6" r="2.8"/><circle cx="575.6" cy="357.6" r="2.8"/><circle cx="586.8" cy="359.6" r="2.8"/><circle cx="598" cy="354.6" r="2.8"/><circle cx="609" cy="351.6" r="2.8"/><circle cx="620" cy="353.6" r="2.8"/><circle cx="631" cy="347.6" r="2.8"/><circle cx="642.4" cy="341.6" r="2.8"/><circle cx="653.6" cy="347.6" r="2.8"/><circle cx="664.6" cy="352.6" r="2.8"/><circle cx="675.8" cy="343.6" r="2.8"/><circle cx="686.8" cy="339.6" r="2.8"/><circle cx="697.8" cy="335" r="2.8"/><circle cx="709" cy="287.6" r="2.8"/><circle cx="720" cy="293.6" r="2.8"/><circle cx="731" cy="282" r="2.8"/><circle cx="742" cy="284" r="2.8"/><circle cx="753.2" cy="278.6" r="2.8"/><circle cx="764.4" cy="258.6" r="2.8"/><circle cx="775.6" cy="257" r="2.8"/><circle cx="787" cy="242.6" r="2.8"/><circle cx="798.4" cy="243.6" r="2.8"/><circle cx="810" cy="245.6" r="2.8"/><circle cx="821.6" cy="247.6" r="2.8"/><circle cx="833.2" cy="258.6" r="2.8"/><circle cx="844.4" cy="249.6" r="2.8"/><circle cx="856" cy="240.6" r="2.8"/><circle cx="867.6" cy="246.6" r="2.8"/><circle cx="879" cy="252.6" r="2.8"/><circle cx="890.4" cy="249.6" r="2.8"/><circle cx="902" cy="254.6" r="2.8"/><circle cx="913.4" cy="258.6" r="2.8"/><circle cx="925" cy="255" r="2.8"/><circle cx="936.4" cy="265.3" r="2.8"/><circle cx="948" cy="282.6" r="2.8"/><circle cx="959.4" cy="281.6" r="2.8"/><circle cx="971" cy="297" r="2.8"/><circle cx="982.4" cy="292.6" r="2.8"/><circle cx="994" cy="287.6" r="2.8"/><circle cx="1005.4" cy="290.6" r="2.8"/><circle cx="1017" cy="302.6" r="2.8"/><circle cx="1028.4" cy="297.6" r="2.8"/><circle cx="1039.6" cy="300.6" r="2.8"/><circle cx="1051" cy="299.6" r="2.8"/><circle cx="1062.4" cy="316.6" r="2.8"/><circle cx="1074" cy="320.6" r="2.8"/><circle cx="1085.4" cy="336" r="2.8"/><circle cx="1097" cy="333.3" r="2.8"/><circle cx="1108" cy="328.6" r="2.8"/><circle cx="1119.6" cy="334.6" r="2.8"/><circle cx="1131" cy="336.3" r="2.8"/><circle cx="1142.4" cy="349.6" r="2.8"/><circle cx="1154" cy="358.6" r="2.8"/><circle cx="1165.4" cy="355.6" r="2.8"/><circle cx="1176.4" cy="351.6" r="2.8"/></g>
<g fill="#f1f9e6" stroke="#76a946" stroke-width="1.8"><circle cx="76.2" cy="549.6" r="2.8"/><circle cx="87.6" cy="549.6" r="2.8"/><circle cx="99.1" cy="549.6" r="2.8"/><circle cx="110.5" cy="549.6" r="2.8"/><circle cx="122" cy="549" r="2.8"/><circle cx="133.4" cy="549" r="2.8"/><circle cx="144.8" cy="549.6" r="2.8"/><circle cx="156.3" cy="549.6" r="2.8"/><circle cx="167.7" cy="549.6" r="2.8"/><circle cx="179.2" cy="549" r="2.8"/><circle cx="190.6" cy="545.5" r="2.8"/><circle cx="202" cy="546" r="2.8"/><circle cx="213.5" cy="545.4" r="2.8"/><circle cx="224.9" cy="543.2" r="2.8"/><circle cx="236.6" cy="537.3" r="2.8"/><circle cx="248" cy="525.5" r="2.8"/><circle cx="259.6" cy="526.2" r="2.8"/><circle cx="271" cy="504.2" r="2.8"/><circle cx="282.4" cy="499.3" r="2.8"/><circle cx="294" cy="500.6" r="2.8"/><circle cx="305.6" cy="505.6" r="2.8"/><circle cx="317" cy="493.4" r="2.8"/><circle cx="328.4" cy="488.6" r="2.8"/><circle cx="339.8" cy="487.4" r="2.8"/><circle cx="351.2" cy="466.6" r="2.8"/><circle cx="362.8" cy="459.6" r="2.8"/><circle cx="374.4" cy="450.8" r="2.8"/><circle cx="385.8" cy="452.6" r="2.8"/><circle cx="397.2" cy="452.6" r="2.8"/><circle cx="408.6" cy="451.6" r="2.8"/><circle cx="420.2" cy="444" r="2.8"/><circle cx="431.4" cy="441" r="2.8"/><circle cx="442.6" cy="436" r="2.8"/><circle cx="453.8" cy="430.6" r="2.8"/><circle cx="465" cy="415.6" r="2.8"/><circle cx="476" cy="413.6" r="2.8"/><circle cx="487" cy="404.6" r="2.8"/><circle cx="498" cy="393.6" r="2.8"/><circle cx="509.2" cy="391.6" r="2.8"/><circle cx="520.4" cy="360.6" r="2.8"/><circle cx="531.4" cy="362" r="2.8"/><circle cx="542.6" cy="355.6" r="2.8"/><circle cx="553.6" cy="335" r="2.8"/><circle cx="564.6" cy="325.6" r="2.8"/><circle cx="575.6" cy="321.6" r="2.8"/><circle cx="586.8" cy="308.6" r="2.8"/><circle cx="598" cy="302.6" r="2.8"/><circle cx="609" cy="297.6" r="2.8"/><circle cx="620" cy="299.6" r="2.8"/><circle cx="631" cy="293.6" r="2.8"/><circle cx="642.4" cy="286.6" r="2.8"/><circle cx="653.6" cy="292.6" r="2.8"/><circle cx="664.6" cy="298.6" r="2.8"/><circle cx="675.8" cy="288.6" r="2.8"/><circle cx="686.8" cy="282.6" r="2.8"/><circle cx="697.8" cy="277.6" r="2.8"/><circle cx="709" cy="231.6" r="2.8"/><circle cx="720" cy="236.6" r="2.8"/><circle cx="731" cy="224" r="2.8"/><circle cx="742" cy="225.6" r="2.8"/><circle cx="753.2" cy="222" r="2.8"/><circle cx="764.4" cy="201" r="2.8"/><circle cx="775.6" cy="197.6" r="2.8"/><circle cx="787" cy="184" r="2.8"/><circle cx="798.4" cy="184" r="2.8"/><circle cx="810" cy="185" r="2.8"/><circle cx="821.6" cy="186" r="2.8"/><circle cx="833.2" cy="197.6" r="2.8"/><circle cx="844.4" cy="186.6" r="2.8"/><circle cx="856" cy="177" r="2.8"/><circle cx="867.6" cy="183" r="2.8"/><circle cx="879" cy="189.6" r="2.8"/><circle cx="890.4" cy="186.6" r="2.8"/><circle cx="902" cy="192.6" r="2.8"/><circle cx="913.4" cy="196.6" r="2.8"/><circle cx="925" cy="193.8" r="2.8"/><circle cx="936.4" cy="202" r="2.8"/><circle cx="948" cy="224" r="2.8"/><circle cx="959.4" cy="224" r="2.8"/><circle cx="971" cy="238.8" r="2.8"/><circle cx="982.4" cy="237.3" r="2.8"/><circle cx="994" cy="234" r="2.8"/><circle cx="1005.4" cy="236.8" r="2.8"/><circle cx="1017" cy="248.6" r="2.8"/><circle cx="1028.4" cy="245" r="2.8"/><circle cx="1039.6" cy="231" r="2.8"/><circle cx="1051" cy="231.3" r="2.8"/><circle cx="1062.4" cy="249" r="2.8"/><circle cx="1074" cy="252.8" r="2.8"/><circle cx="1085.4" cy="269.8" r="2.8"/><circle cx="1097" cy="266.8" r="2.8"/><circle cx="1108" cy="260.6" r="2.8"/><circle cx="1119.6" cy="267.5" r="2.8"/><circle cx="1131" cy="275" r="2.8"/><circle cx="1142.4" cy="290" r="2.8"/><circle cx="1154" cy="299.6" r="2.8"/><circle cx="1165.4" cy="297.5" r="2.8"/><circle cx="1176.4" cy="293" r="2.8"/></g>
</svg>
</body></html>
